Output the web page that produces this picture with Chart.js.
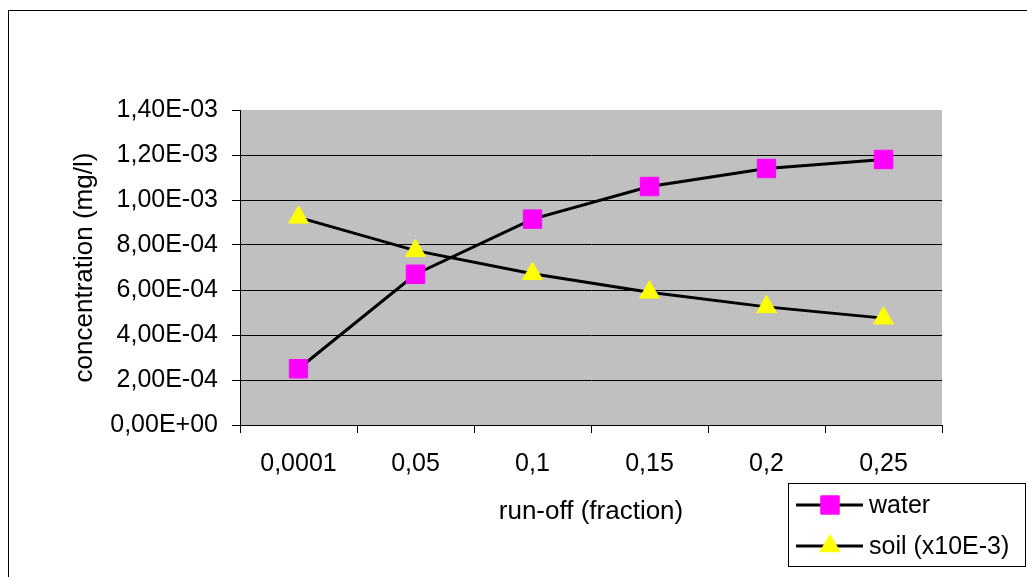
<!DOCTYPE html>
<html>
<head>
<meta charset="utf-8">
<script src="https://cdn.jsdelivr.net/npm/chart.js"></script>
<style>
  html, body { margin: 0; padding: 0; background: #fff; }
  canvas { display: block; }
</style>
</head>
<body>
<canvas id="chart" width="1027" height="577"></canvas>
<script>
// data
const categories = ['0,0001', '0,05', '0,1', '0,15', '0,2', '0,25'];
const waterValues = [2.5e-4, 6.7e-4, 9.15e-4, 1.06e-3, 1.14e-3, 1.18e-3];
const soilValues = [9.23e-4, 7.75e-4, 6.72e-4, 5.9e-4, 5.25e-4, 4.75e-4];
const yTickValues = [0, 2e-4, 4e-4, 6e-4, 8e-4, 1e-3, 1.2e-3, 1.4e-3];
const yTickLabels = ['0,00E+00', '2,00E-04', '4,00E-04', '6,00E-04', '8,00E-04', '1,00E-03', '1,20E-03', '1,40E-03'];

const FONT = { family: '"Liberation Sans", Arial, sans-serif', size: 25 };
const TITLE_FONT = { family: '"Liberation Sans", Arial, sans-serif', size: 26 };

// gray plot area + outer frame
const frame = {
  id: 'frame',
  beforeDraw(chart) {
    const { ctx, chartArea: a } = chart;
    ctx.save();
    ctx.fillStyle = '#c0c0c0';
    ctx.fillRect(a.left, a.top, a.right - a.left, a.bottom - a.top);
    ctx.strokeStyle = '#000';
    ctx.lineWidth = 1;
    ctx.strokeRect(8.5, 10.5, 1200, 800);
    ctx.restore();
  }
};

// legend box in the bottom right corner
const boxLegend = {
  id: 'boxLegend',
  afterDraw(chart) {
    const ctx = chart.ctx;
    ctx.save();
    ctx.fillStyle = '#fff';
    ctx.fillRect(788, 483, 238, 84);
    ctx.strokeStyle = '#000';
    ctx.lineWidth = 1;
    ctx.strokeRect(788.5, 483.5, 237, 83);
    chart.data.datasets.forEach((ds, i) => {
      const y = 505 + i * 41;
      ctx.strokeStyle = '#000';
      ctx.lineWidth = 3;
      ctx.beginPath();
      ctx.moveTo(796, y);
      ctx.lineTo(863, y);
      ctx.stroke();
      ctx.fillStyle = ds.pointBackgroundColor;
      ctx.strokeStyle = ds.pointBorderColor;
      ctx.lineWidth = 1;
      Chart.helpers.drawPoint(ctx, {
        pointStyle: ds.pointStyle, radius: ds.pointRadius, rotation: 0, borderWidth: 1
      }, 830, y);
      ctx.fillStyle = '#000';
      ctx.font = FONT.size + 'px ' + FONT.family;
      ctx.textBaseline = 'middle';
      ctx.textAlign = 'left';
      ctx.fillText(ds.label, 869, y + 1);
    });
    ctx.restore();
  }
};

new Chart(document.getElementById('chart'), {
  type: 'line',
  data: {
    labels: categories,
    datasets: [
      {
        label: 'water',
        data: waterValues,
        borderColor: '#000',
        borderWidth: 3,
        tension: 0,
        pointStyle: 'rect',
        pointRadius: 13,
        pointBackgroundColor: '#ff00ff',
        pointBorderColor: '#ff00ff',
        pointBorderWidth: 1
      },
      {
        label: 'soil (x10E-3)',
        data: soilValues,
        borderColor: '#000',
        borderWidth: 3,
        tension: 0,
        pointStyle: 'triangle',
        pointRadius: 11.5,
        pointBackgroundColor: '#ffff00',
        pointBorderColor: '#ffff00',
        pointBorderWidth: 1
      }
    ]
  },
  options: {
    responsive: false,
    animation: false,
    devicePixelRatio: 1,
    layout: { padding: { left: 65, top: 110, right: 85, bottom: 46 } },
    plugins: { legend: { display: false }, tooltip: { enabled: false } },
    scales: {
      x: {
        offset: true,
        afterFit: s => { s.height = 106; },
        grid: { offset: true, drawOnChartArea: false, color: '#000', tickLength: 8 },
        border: { color: '#000', width: 1 },
        ticks: { color: '#000', font: FONT, padding: 16, maxRotation: 0 },
        title: { display: true, text: 'run-off (fraction)', color: '#000', font: TITLE_FONT, padding: 4 }
      },
      y: {
        min: 0,
        max: 1.4e-3,
        afterFit: s => { s.width = 175; },
        afterBuildTicks: s => { s.ticks = yTickValues.map(v => ({ value: v })); },
        grid: {
          color: c => (c.index === yTickValues.length - 1 ? 'rgba(0,0,0,0)' : '#000'),
          tickColor: '#000',
          tickLength: 8
        },
        border: { color: '#000', width: 1 },
        ticks: {
          color: '#000',
          font: FONT,
          padding: 14,
          callback: (v, i) => yTickLabels[i]
        },
        title: { display: true, text: 'concentration (mg/l)', color: '#000', font: TITLE_FONT, padding: 4 }
      }
    }
  },
  plugins: [frame, boxLegend]
});
</script>
</body>
</html>
